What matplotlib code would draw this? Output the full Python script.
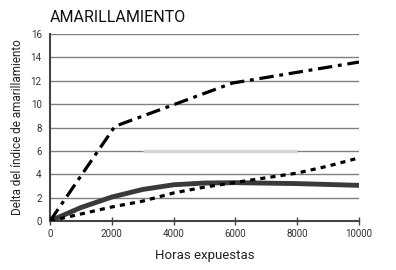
import matplotlib
matplotlib.use("Agg")
import matplotlib.pyplot as plt

# Data
hours_dashdot = [0, 2100, 5900, 10000]
vals_dashdot = [0, 8.1, 11.8, 13.6]

hours_solid = [0, 1000, 2000, 3000, 4000, 5000, 6000, 8000, 10000]
vals_solid = [0, 1.15, 2.05, 2.7, 3.1, 3.25, 3.28, 3.2, 3.05]

hours_dotted = [0, 1000, 2000, 3000, 4000, 5000, 6000, 7000, 8000, 9000, 10000]
vals_dotted = [0, 0.6, 1.2, 1.7, 2.4, 2.9, 3.3, 3.7, 4.1, 4.7, 5.4]

hours_gray = [3000, 8000]
vals_gray = [6, 6]

xticks = [0, 2000, 4000, 6000, 8000, 10000]
yticks = [0, 2, 4, 6, 8, 10, 12, 14, 16]

title = "AMARILLAMIENTO"
xlabel = "Horas expuestas"
ylabel = "Delta del índice de amarillamiento"

plt.rcParams['font.family'] = ['Roboto', 'DejaVu Sans']

fig = plt.figure(figsize=(3.96, 2.70), dpi=100)
ax = fig.add_axes([50/396, 49/270, 309/396, 187/270])

ax.set_xlim(0, 10000)
ax.set_ylim(0, 16)

for y in yticks[1:]:
    ax.axhline(y, color='#808080', lw=1.0, zorder=1)

ax.plot(hours_gray, vals_gray, color='#d6d6d6', lw=2.5, zorder=2, solid_capstyle='butt')
ax.plot(hours_solid, vals_solid, color='#3a3a3a', lw=3.5, zorder=3)
ax.plot(hours_dotted, vals_dotted, color='black', lw=2.3, zorder=4,
        dashes=(1.6, 1.6))
ax.plot(hours_dashdot, vals_dashdot, color='black', lw=2.3, zorder=5,
        dashes=(4.5, 1.8, 1.2, 1.8))

for s in ['top', 'right']:
    ax.spines[s].set_visible(False)
for s in ['left', 'bottom']:
    ax.spines[s].set_color('#444444')
    ax.spines[s].set_linewidth(1.5)

ax.set_xticks(xticks)
ax.set_xticklabels([str(v) for v in xticks])
ax.set_yticks(yticks)
ax.set_yticklabels([str(v) for v in yticks])
ax.tick_params(axis='x', direction='inout', length=6, width=1, color='#444444',
               labelsize=7, labelcolor='#333333', pad=3)
ax.tick_params(axis='y', length=0, labelsize=7, labelcolor='#333333', pad=6)

ax.set_xlabel(xlabel, fontsize=9.5, color='#222222', labelpad=7)
ax.set_ylabel(ylabel, fontsize=8.5, color='#222222', labelpad=5)
fig.text(50/396, 1 - 18/270, title, fontsize=11.5, color='#111111',
         ha='left', va='center', fontweight='normal')

fig.savefig("out.png", dpi=100, facecolor='white')
